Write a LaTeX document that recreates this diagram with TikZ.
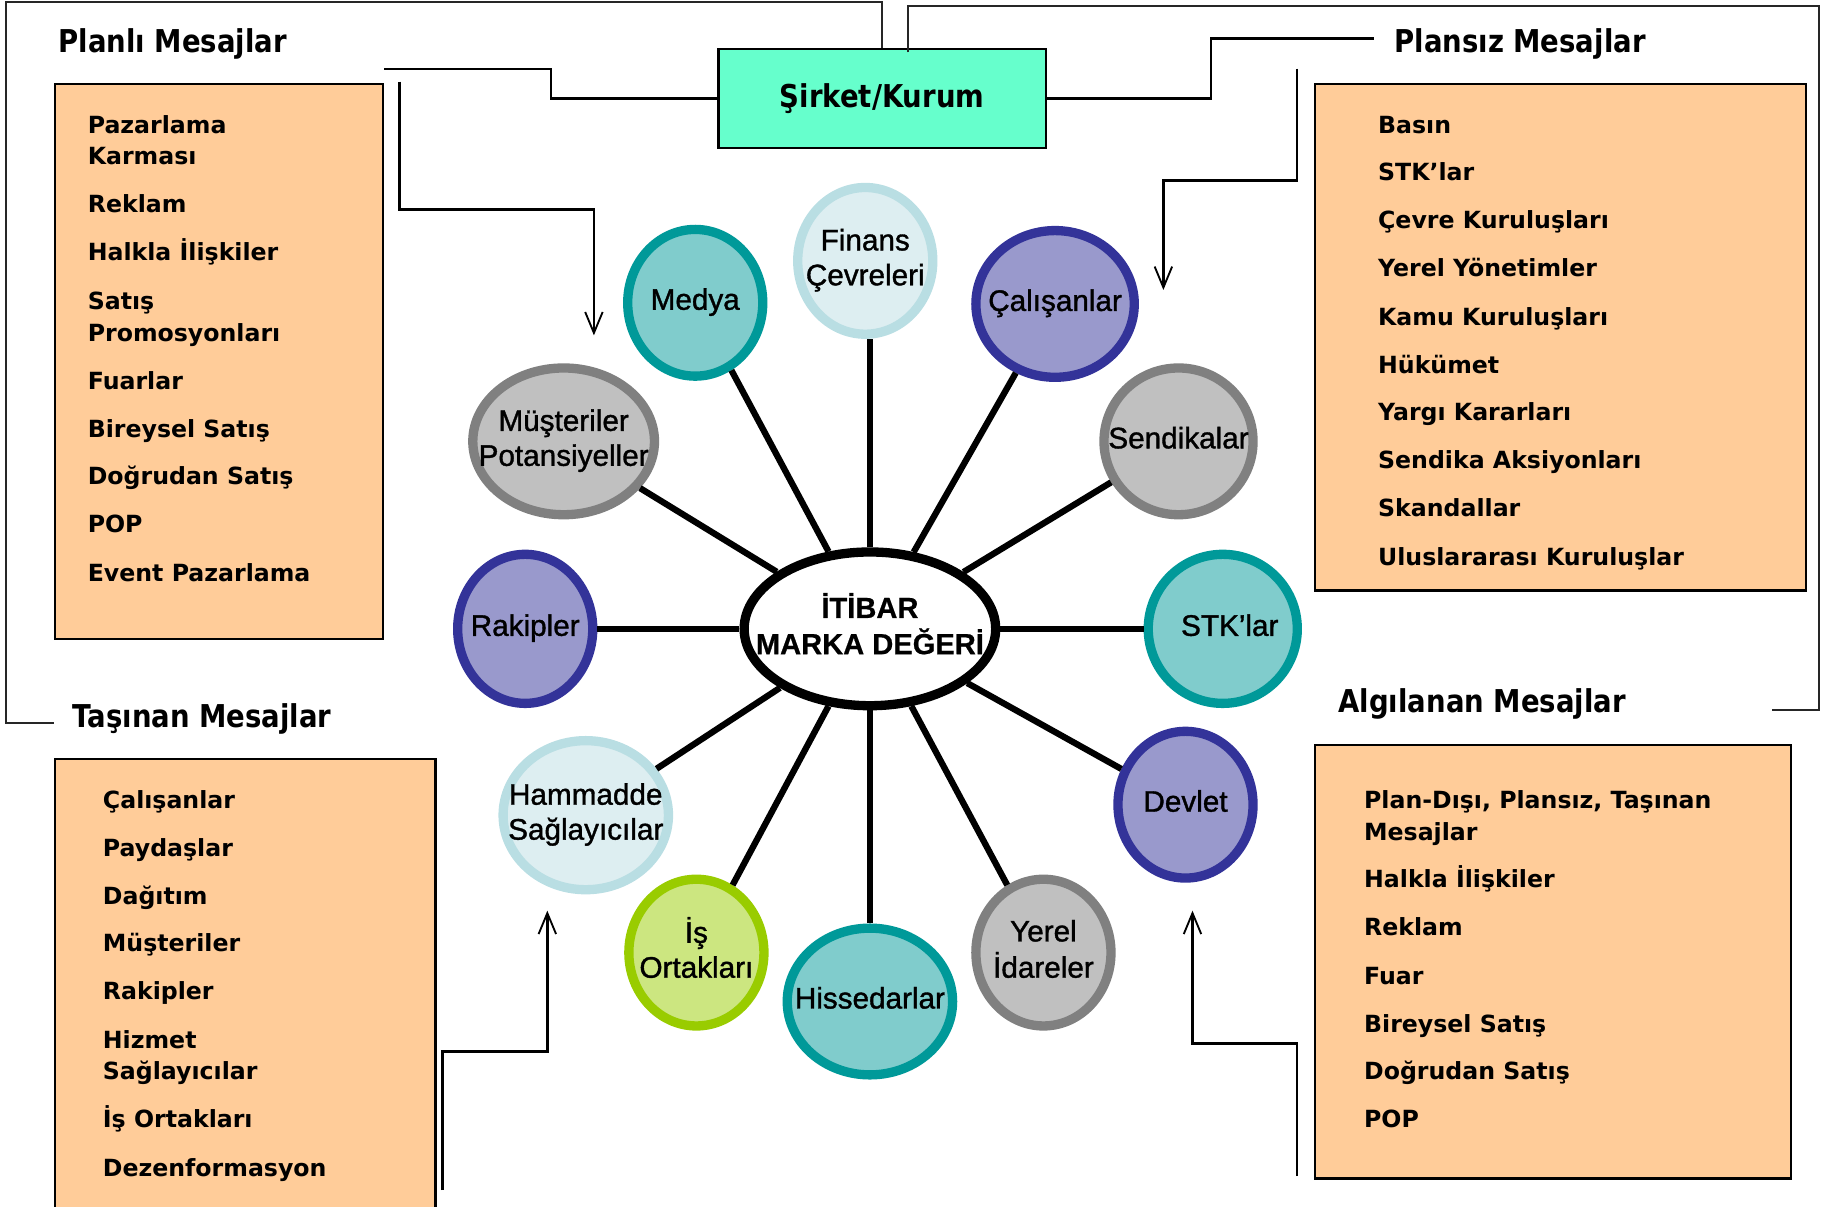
\documentclass[tikz,border=0pt]{standalone}
\usepackage{fontspec}
\usetikzlibrary{shapes.geometric,arrows.meta,calc}
\setmainfont{DejaVu Sans}
\newfontfamily\titlefont{DejaVu Sans}[FakeStretch=0.875]
\newfontfamily\circfont{Liberation Sans}[FakeBold=1.2]
\newfontfamily\corefont{Liberation Sans}[FakeBold=0.6]
\definecolor{aquabox}{HTML}{66FFCC}
\definecolor{peach}{HTML}{FFCC99}
\definecolor{tealring}{HTML}{009999}
\definecolor{tealfill}{HTML}{80CCCC}
\definecolor{bluering}{HTML}{333399}
\definecolor{bluefill}{HTML}{9999CC}
\definecolor{grayring}{HTML}{808080}
\definecolor{grayfill}{HTML}{C0C0C0}
\definecolor{lightring}{HTML}{B9DEE3}
\definecolor{lightfill}{HTML}{DDEEF1}
\definecolor{greenring}{HTML}{99CC00}
\definecolor{greenfill}{HTML}{CCE680}
\newcommand\mk[1]{\makebox[0pt]{\begin{tabular}{@{}c@{}}#1\end{tabular}}}
\begin{document}
\begin{tikzpicture}[x=0.5pt,y=-0.5pt,
  listbox/.style={draw=black, line width=1pt, fill=peach, rectangle, anchor=north west, inner sep=0pt},
  item/.style={anchor=base west, inner sep=0pt, font=\bfseries\fontsize{10.15}{13.5}\selectfont},
  title/.style={anchor=base west, inner sep=0pt, font=\titlefont\bfseries\fontsize{13.5}{16}\selectfont},
  frame/.style={line width=0.8pt, draw=black!85},
  conn/.style={line width=1pt},
  arr/.style={line width=1pt, -{Straight Barb[length=9pt,width=7.5pt,line width=0.8pt]}},
  spoke/.style={line width=2.7pt},
  bubble/.style={ellipse, line width=4pt, inner sep=0pt, font=\circfont\fontsize{12.75}{15}\selectfont},
  tealb/.style={bubble, draw=tealring, fill=tealfill},
  blueb/.style={bubble, draw=bluering, fill=bluefill},
  grayb/.style={bubble, draw=grayring, fill=grayfill},
  lightb/.style={bubble, draw=lightring, fill=lightfill},
  greenb/.style={bubble, draw=greenring, fill=greenfill},
  sz/.style 2 args={minimum width=#1pt, minimum height=#2pt}
]
\useasboundingbox (0,0) rectangle (1568,1036);

% boxes
\node[listbox, minimum width=141pt, minimum height=238.5pt] (plbox) at (46,71) {};
\node[listbox, minimum width=211pt, minimum height=217.5pt] (psbox) at (1128,71) {};
\node[listbox, minimum width=163.5pt, minimum height=194.5pt] (tsbox) at (46,651) {};
\node[listbox, minimum width=204.5pt, minimum height=186pt] (agbox) at (1128,639) {};

% company box
\node[draw=black, fill=aquabox, line width=1pt, minimum width=140.5pt, minimum height=42.5pt,
      inner sep=0pt, font=\titlefont\bfseries\fontsize{13.5}{16}\selectfont] (sirket) at (757.5,84.5) {Şirket/Kurum};

% titles
\node[title] (tpl) at (50,45) {Planlı Mesajlar};
\node[title] (tps) at (1197,45) {Plansız Mesajlar};
\node[title] (tts) at (62,625) {Taşınan Mesajlar};
\node[title] (tag) at (1149,612) {Algılanan Mesajlar};

% list items
\foreach \t/\y [count=\i] in {Pazarlama/107, Karması/134, Reklam/175, Halkla İlişkiler/216, Satış/258,
  Promosyonları/286, Fuarlar/327, Bireysel Satış/368, Doğrudan Satış/409, POP/450, Event Pazarlama/492}
  \node[item] (pl\i) at (75,\y+7.4) {\t};
\foreach \t/\y [count=\i] in {Basın/107, STK’lar/148, Çevre Kuruluşları/189, Yerel Yönetimler/230,
  Kamu Kuruluşları/272, Hükümet/313, Yargı Kararları/354, Sendika Aksiyonları/395, Skandallar/436,
  Uluslararası Kuruluşlar/478}
  \node[item] (ps\i) at (1183,\y+7.4) {\t};
\foreach \t/\y [count=\i] in {Çalışanlar/687, Paydaşlar/728, Dağıtım/769, Müşteriler/810, Rakipler/851,
  Hizmet/893, Sağlayıcılar/920, İş Ortakları/961, Dezenformasyon/1003}
  \node[item] (ts\i) at (88,\y+7.4) {\t};
\foreach \t/\y [count=\i] in {{Plan-Dışı, Plansız, Taşınan}/687, Mesajlar/714, Halkla İlişkiler/755,
  Reklam/796, Fuar/838, Bireysel Satış/879, Doğrudan Satış/920, POP/961}
  \node[item] (ag\i) at (1171,\y+7.4) {\t};

% free ends of connectors
\coordinate (plend) at (330,59);
\coordinate (psend) at (1180,33);
\coordinate (tsend) at (46,621);
\coordinate (agend) at (1522,610);
\coordinate (rfs) at (780,45);
\coordinate (pastart) at (343,70);
\coordinate (patip) at (510,288);
\coordinate (psastart) at (1114,59);
\coordinate (psatip) at (999,249);
\coordinate (tsastart) at (380,1022);
\coordinate (tsatip) at (470,782);
\coordinate (agastart) at (1114,1010);
\coordinate (agatip) at (1024,782);

% outer frame lines
\draw[frame] (sirket.north) |- (5,2) |- (tsend);
\draw[frame] (rfs) |- (1562,5) |- (agend);

% connectors from company box
\draw[conn] (sirket.west) -| (473,59) -- (plend);
\draw[conn] (sirket.east) -| (1040,33) -- (psend);

% arrows
\draw[arr] (pastart) |- (510,180) -- (patip);
\draw[arr] (psastart) |- (999,155) -- (psatip);
\draw[arr] (tsastart) |- (470,903) -- (tsatip);
\draw[arr] (agastart) |- (1024,896) -- (agatip);

% bubbles
\node[lightb, sz={58}{63}] (finans) at (743,224) {\mk{Finans\\Çevreleri}};
\node[tealb, sz={58}{63}] (medya) at (597,260) {\mk{Medya}};
\node[blueb, sz={68}{63}] (calisan) at (906,261) {\mk{Çalışanlar}};
\node[grayb, sz={78}{63}] (musteri) at (484,379) {\mk{Müşteriler\\Potansiyeller}};
\node[grayb, sz={64}{63}] (sendika) at (1012,379) {\mk{Sendikalar}};
\node[blueb, sz={58}{64}] (rakip) at (451,540) {\mk{Rakipler}};
\node[tealb, sz={64}{64}] (stk) at (1050,540) {\mk{\hspace*{6pt}STK’lar}};
\node[lightb, sz={71}{64}] (hammadde) at (503,700) {\mk{Hammadde\\Sağlayıcılar}};
\node[blueb, sz={58}{63}] (devlet) at (1018,691) {\mk{Devlet}};
\node[greenb, sz={58}{63}] (isort) at (598,818) {\mk{İş\\Ortakları}};
\node[tealb, sz={71}{63}] (hisse) at (747,860) {\mk{Hissedarlar}};
\node[grayb, sz={58}{63}] (yerel) at (896,818) {\mk{Yerel\\İdareler}};

% core
\node[ellipse, draw=black, fill=white, line width=4pt, inner sep=0pt, minimum width=108pt, minimum height=66pt,
      font=\corefont\bfseries\fontsize{12.5}{15}\selectfont] (core) at (747,540) {\mk{İTİBAR\\MARKA DEĞERİ}};

% spokes
\draw[spoke] (core) -- (core |- finans.south);
\draw[spoke] (core) -- (core |- hisse.north);
\foreach \n in {medya,calisan,musteri,sendika,rakip,stk,hammadde,devlet,isort,yerel}
  \draw[spoke] (core) -- (\n);
\end{tikzpicture}
\end{document}
